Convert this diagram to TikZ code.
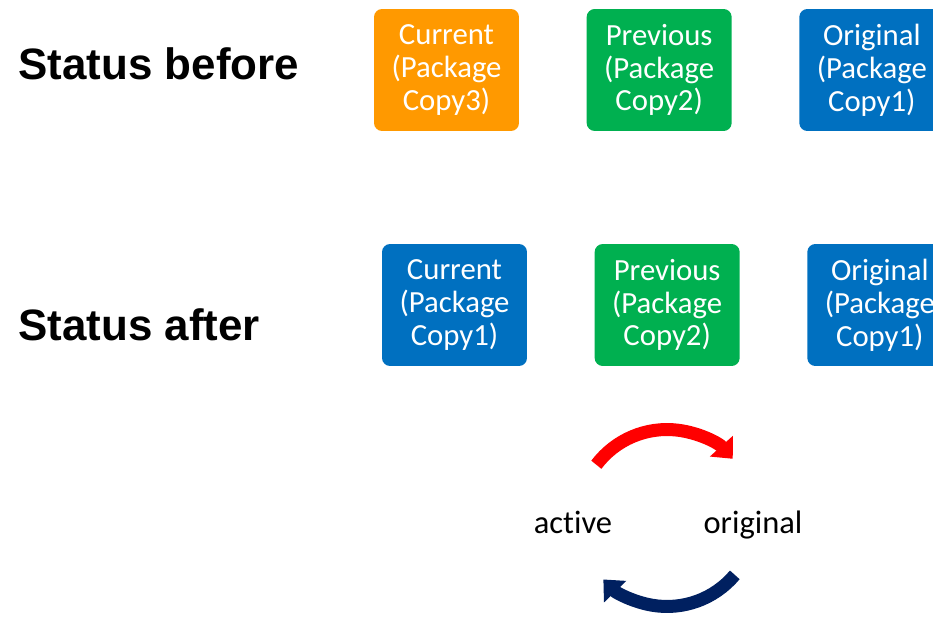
\documentclass[tikz,border=0pt]{standalone}
\usepackage{fontspec}
\setmainfont{Liberation Sans}
\newfontfamily\boxfont[Ligatures={NoCommon,NoDiscretionary,NoContextual}]{Carlito}
\usepackage{xcolor}
\usepackage{tikz}
\usetikzlibrary{positioning,%
  arrows.meta%
}
\definecolor{pkgorange}{HTML}{FF9900}
\definecolor{pkggreen}{HTML}{00B050}
\definecolor{pkgblue}{HTML}{0070C0}
\definecolor{pkgnavy}{HTML}{002060}

\begin{document}
\begin{tikzpicture}[x=0.02cm, y=-0.02cm,
    pkg/.style={rectangle, rounded corners=0.16cm, minimum width=2.9cm, minimum height=2.44cm,
      inner sep=0pt, text=white, align=center, font=\boxfont\fontsize{17.5}{18.7}\selectfont},
    status/.style={anchor=base west, inner sep=0pt, font=\bfseries\fontsize{25}{30}\selectfont},
    word/.style={anchor=base, inner sep=0pt, font=\boxfont\fontsize{18.5}{20}\selectfont},
    turn/.style={line width=0.26cm, -{Triangle[length=0.34cm, width=0.6cm]}}]
            % Rahmen
            \path[use as bounding box, clip] (0,0) rectangle (933,618);

            \node[status] (sb) at (18,80) {Status before};
            \node[pkg, fill=pkgorange] (cur1) at (446.5,70) {Current\\(Package\\Copy3)};
            \node[pkg, fill=pkggreen, right=1.34cm of cur1] (prev1) {Previous\\(Package\\Copy2)};
            \node[pkg, fill=pkgblue, right=1.34cm of prev1] (orig1) {Original\\(Package\\Copy1)};

            \node[status] (sa) at (18,340) {Status after};
            \node[pkg, fill=pkgblue] (cur2) at (454.5,305) {Current\\(Package\\Copy1)};
            \node[pkg, fill=pkggreen, right=1.34cm of cur2] (prev2) {Previous\\(Package\\Copy2)};
            \node[pkg, fill=pkgblue, right=1.34cm of prev2] (orig2) {Original\\(Package\\Copy1)};

            \node[word] (active) at (573,533) {active};
            \node[word] (original) at (753,533) {original};
            \coordinate (hub) at (667,518);
            \draw[turn, red] ([shift={(143:1.77cm)}]hub) arc[start angle=143, end angle=42, radius=1.77cm];
            \draw[turn, pkgnavy] ([shift={(-40:1.77cm)}]hub) arc[start angle=-40, end angle=-136, radius=1.77cm];
        \end{tikzpicture}
\end{document}
